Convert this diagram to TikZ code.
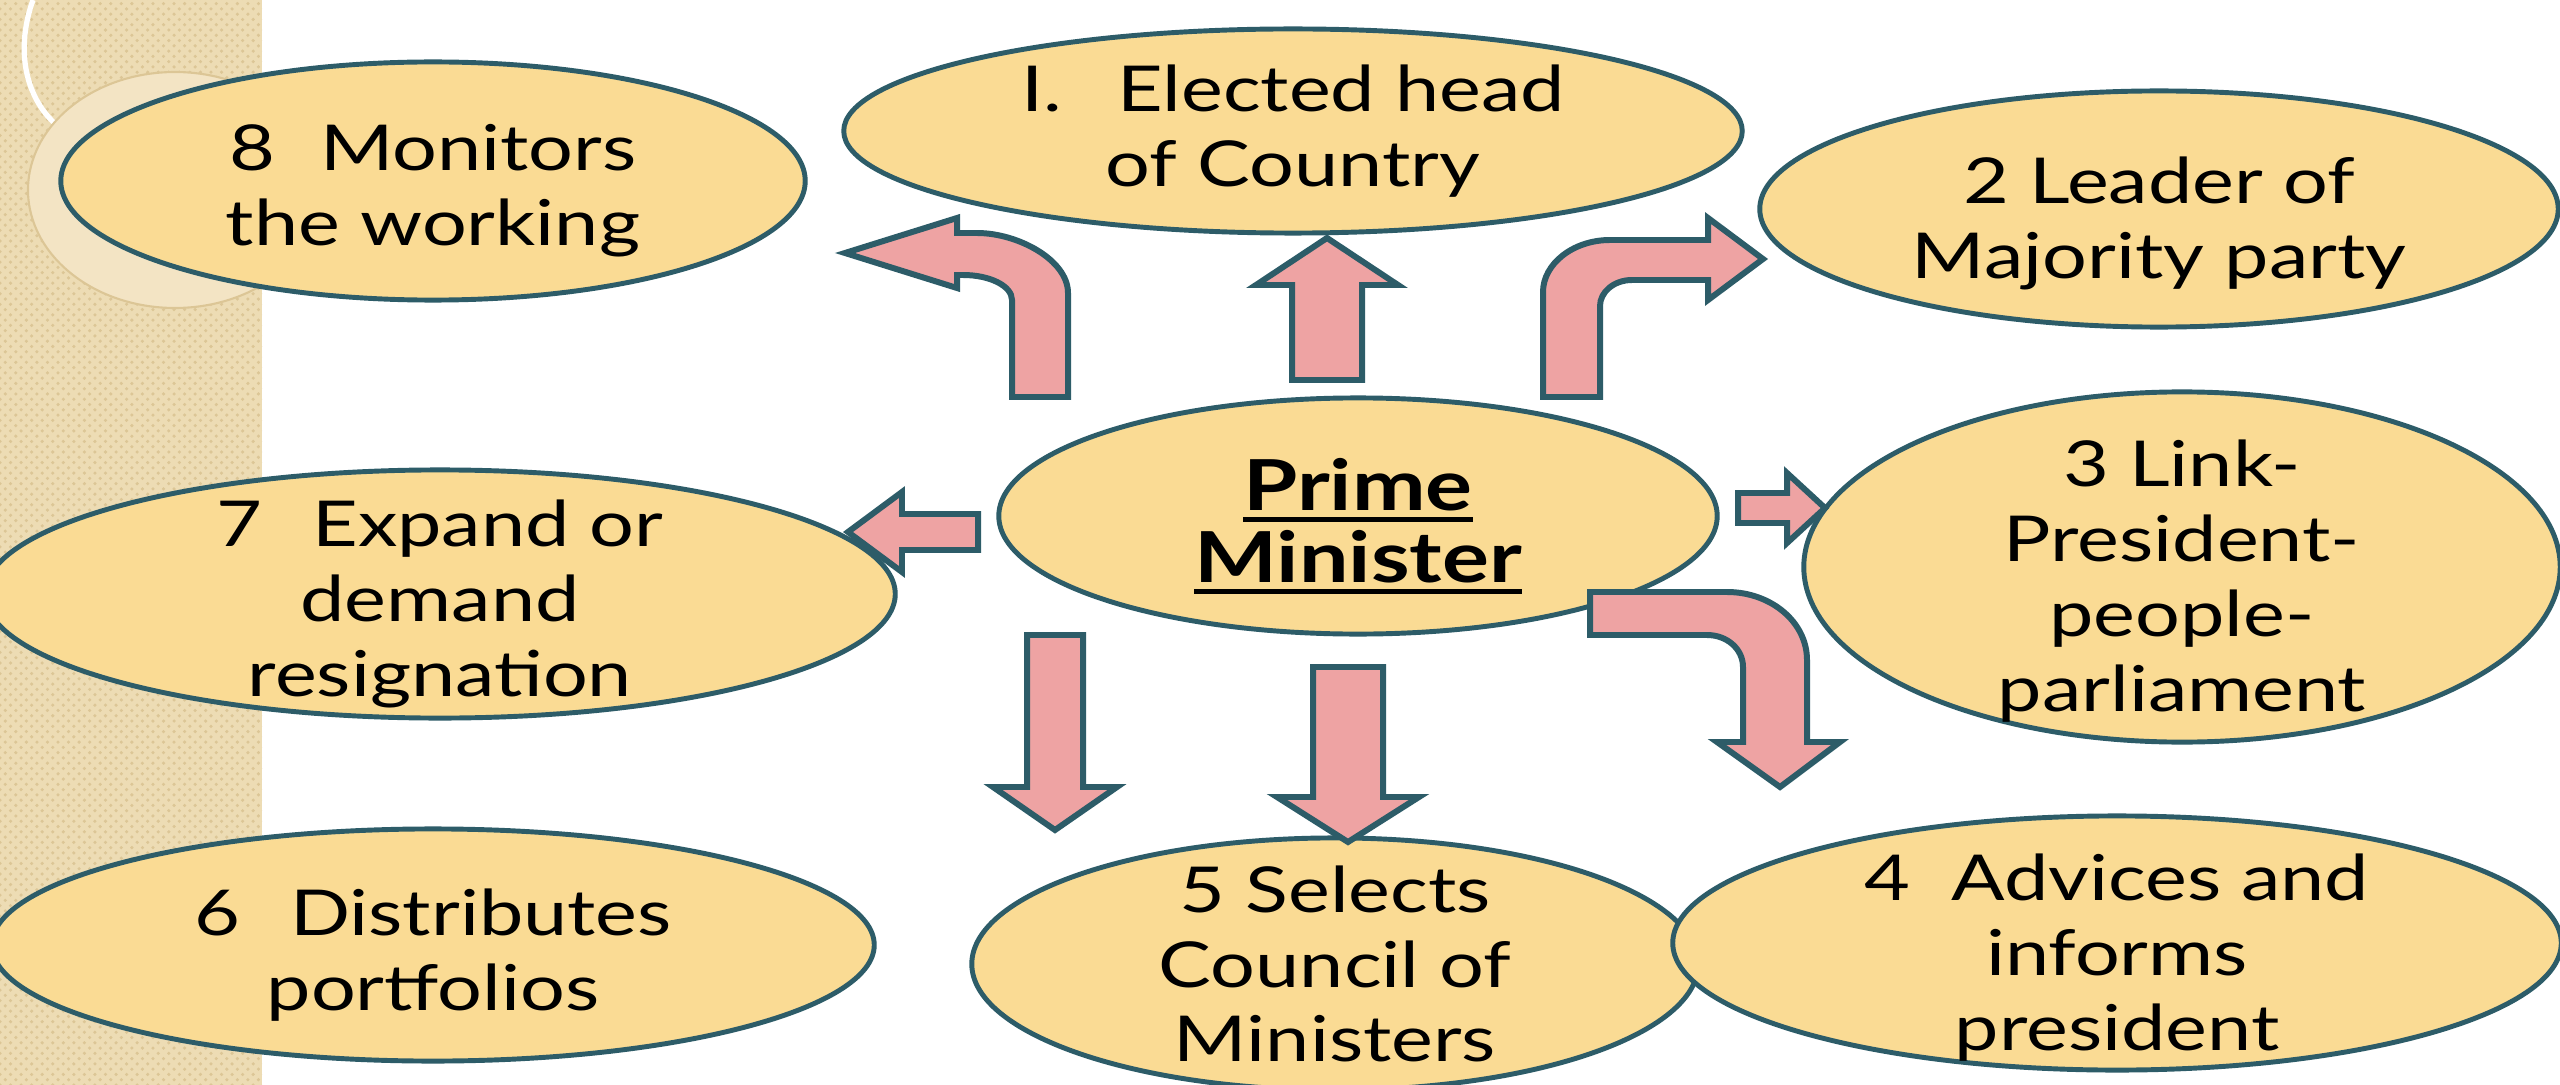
\documentclass[tikz,border=0pt]{standalone}
\usepackage{fontspec}
\setmainfont{Lato}[FakeStretch=1.25]
\usetikzlibrary{shapes.geometric}
\usetikzlibrary{patterns}
\definecolor{bubblefill}{RGB}{250,219,148}
\definecolor{rimteal}{RGB}{45,92,104}
\definecolor{arrowpink}{RGB}{238,163,163}
\definecolor{stripbeige}{RGB}{237,220,180}
\definecolor{stripdots}{RGB}{220,198,150}
\definecolor{ringfill}{RGB}{243,228,196}
\tikzset{caption/.style = {align=center, inner sep=0pt,
                           font=\fontsize{18}{21.3}\selectfont},
         bubble/.style 2 args = {ellipse, draw=rimteal, fill=bubblefill, line width=1.4pt,
                                 inner sep=0pt, label={[caption, yshift=#2]center:#1}},
         blockarrow/.style = {draw=rimteal, fill=arrowpink, line width=1.7pt}}
\newcommand\pmline[1]{\setbox0\hbox{#1}\rlap{\rule[-3.2pt]{\wd0}{1.4pt}}\box0}

\begin{document}
\begin{tikzpicture}[x=0.01cm, y=-0.01cm]
    \clip (0,0) rectangle (2560,1085);
    \fill [white] (0,0) rectangle (2560,1085);
    \fill [stripbeige] (0,0) rectangle (262,1085);
    \fill [pattern=crosshatch dots, pattern color=stripdots] (0,0) rectangle (262,1085);
    \draw [white, line width=1.5pt] (33,0) .. controls (15,50) and (25,100) .. (60,128);
    \filldraw [fill=ringfill, draw=stripdots, line width=0.6pt] (175,190) ellipse (147 and 118);

    \node [bubble={8\hspace{0.45cm}Monitors\\the working}{-0.1cm},
           minimum width=7.44cm, minimum height=2.38cm] (monitors) at (433,181) {};
    \node [bubble={I.\hspace{0.55cm}Elected head\\of Country}{0cm},
           minimum width=8.98cm, minimum height=2.04cm] (elected) at (1293,131) {};
    \node [bubble={2 Leader of\\Majority party}{-0.14cm},
           minimum width=7.98cm, minimum height=2.36cm] (leader) at (2159,209) {};
    \node [ellipse, draw=rimteal, fill=bubblefill, line width=1.4pt,
           minimum width=7.18cm, minimum height=2.36cm,
           label={[caption, yshift=-0.1cm, font=\bfseries\fontsize{20}{20.5}\selectfont]center:\pmline{Prime}\\\pmline{Minister}}]
           (pm) at (1358,516) {};
    \node [bubble={3 Link-\\President-\\people-\\parliament}{-0.14cm},
           minimum width=7.56cm, minimum height=3.5cm] (link) at (2182,567) {};
    \node [bubble={7\hspace{0.5cm}Expand or\\demand\\resignation}{-0.1cm},
           minimum width=9.1cm, minimum height=2.48cm] (expand) at (440,594) {};
    \node [bubble={6\hspace{0.5cm}Distributes\\portfolios}{-0.1cm},
           minimum width=8.82cm, minimum height=2.32cm] (portfolios) at (433,945) {};
    \node [bubble={5 Selects\\Council of\\Ministers}{0cm},
           minimum width=7.26cm, minimum height=2.52cm] (selects) at (1335,964) {};
    \node [bubble={4~~Advices and\\informs\\president}{-0.15cm},
           minimum width=8.88cm, minimum height=2.54cm] (advices) at (2117,943) {};

    % straight arrows: base x / base y / angle / length / shaft / head / head length
    \foreach \bx/\by/\ang/\len/\sh/\hh/\hl in {1327/380/90/142/35/71/47,
                                             978/532/180/130/18/40/54,
                                             1738/508/0/87/15/35/38,
                                             1055/635/-90/195/28/62/43,
                                             1348/667/-90/175/35/71/45} {
      \draw [blockarrow, shift={(\bx,\by)}, rotate=\ang]
        (0,-\sh) -- ({\len-\hl},-\sh) -- ({\len-\hl},-\hh) -- (\len,0)
        -- ({\len-\hl},\hh) -- ({\len-\hl},\sh) -- (0,\sh) -- cycle;
    };
    % bent ones
    \draw [blockarrow] (1068,397) -- (1068,293) .. controls (1068,260) and (1018,233) .. (977,233)
      -- (957,233) -- (957,218) -- (845,253) -- (957,288) -- (957,275) -- (963,275)
      .. controls (990,275) and (1012,286) .. (1012,300) -- (1012,397) -- cycle;
    \draw [blockarrow] (1543,397) -- (1543,292) .. controls (1543,264) and (1573,240) .. (1610,240)
      -- (1708,240) -- (1708,218) -- (1763,259) -- (1708,300) -- (1708,280) -- (1632,280)
      .. controls (1614,280) and (1600,292) .. (1600,306) -- (1600,397) -- cycle;
    \draw [blockarrow] (1590,592) -- (1727,592) .. controls (1771,592) and (1807,622) .. (1807,660)
      -- (1807,742) -- (1840,742) -- (1780,787) -- (1717,742) -- (1743,742) -- (1743,667)
      .. controls (1743,649) and (1727,635) .. (1707,635) -- (1590,635) -- cycle;
\end{tikzpicture}
\end{document}
